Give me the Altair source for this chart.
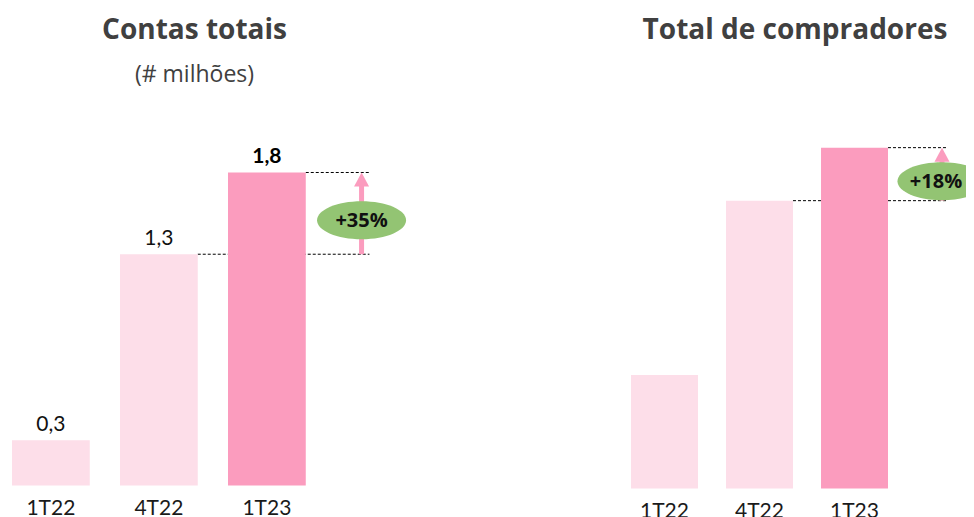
import altair as alt
import pandas as pd

# ---- dados ----
categorias = ["1T22", "4T22", "1T23"]
contas_valores = [0.26, 1.33, 1.80]          # milhões (altura das barras)
contas_rotulos = ["0,3", "1,3", "1,8"]
compradores_valores = [0.60, 1.52, 1.80]     # escala relativa (sem rótulos)
titulos = ["Contas totais", "Total de compradores"]
subtitulo = "(# milhões)"
crescimento_rotulos = ["+35%", "+18%"]

CLARO = "#FDDEE9"
ESCURO = "#FB9CBE"
VERDE = "#93C473"
FONTE_TIT = "Open Sans"
FONTE = "Lato"
TITULO_COR = "#404040"

cores = [CLARO, CLARO, ESCURO]
ELIPSE = "M-1,0A1,0.427,0,1,0,1,0A1,0.427,0,1,0,-1,0Z"
PONTA = "M0,0L1,1.87L-1,1.87Z"


def painel(valores, rotulos, titulo, sub, crescimento, largura, altura, y_max,
           pad_inner, pad_outer, desl_anot, desl_texto, desl_traco, title_dx, recorte):
    x_scale = alt.Scale(domain=categorias, paddingInner=pad_inner,
                        paddingOuter=pad_outer, align=0, round=False)
    y_scale = alt.Scale(domain=[0, y_max], nice=False, zero=True)
    x_axis = alt.Axis(title=None)

    barras_df = pd.DataFrame({"cat": categorias, "valor": valores})
    tracos_df = pd.DataFrame({"de": ["1T23", "4T22"], "para": ["1T23", "1T23"],
                              "valor": [valores[2], valores[1]]})
    seta_df = pd.DataFrame({"cat": ["1T23"], "base": [valores[1]],
                            "topo": [valores[2]], "rotulo": [crescimento]})

    tracos = alt.Chart(tracos_df).mark_rule(
        color="#000000", strokeWidth=1, strokeDash=[3, 2], x2Offset=desl_traco
    ).encode(
        x=alt.X("de:N", bandPosition=1, scale=x_scale, axis=x_axis),
        x2=alt.X2("para:N", bandPosition=1),
        y=alt.Y("valor:Q", scale=y_scale, axis=None),
    )

    barras = alt.Chart(barras_df).mark_bar().encode(
        x=alt.X("cat:N", scale=x_scale, axis=x_axis, sort=categorias),
        y=alt.Y("valor:Q", scale=y_scale, axis=None),
        color=alt.Color("cat:N", scale=alt.Scale(domain=categorias, range=cores),
                        legend=None),
    )

    x_anot = alt.X("cat:N", bandPosition=1, scale=x_scale, axis=x_axis)

    haste = alt.Chart(seta_df).mark_rule(
        color=ESCURO, strokeWidth=5, y2Offset=10, xOffset=desl_anot
    ).encode(
        x=x_anot,
        y=alt.Y("base:Q", scale=y_scale, axis=None),
        y2="topo:Q",
    )
    ponta = alt.Chart(seta_df).mark_point(
        shape=PONTA, size=225, filled=True, opacity=1, color=ESCURO,
        strokeWidth=0, xOffset=desl_anot
    ).encode(
        x=x_anot,
        y=alt.Y("topo:Q", scale=y_scale, axis=None),
    )
    elipse = alt.Chart(seta_df).transform_calculate(
        meio="(datum.base + datum.topo) / 2"
    ).mark_point(
        shape=ELIPSE, size=7921, filled=True, opacity=1, color=VERDE,
        strokeWidth=0, yOffset=7, xOffset=desl_anot, clip=recorte
    ).encode(
        x=x_anot,
        y=alt.Y("meio:Q", scale=y_scale, axis=None),
    )
    texto_cresc = alt.Chart(seta_df).transform_calculate(
        meio="(datum.base + datum.topo) / 2"
    ).mark_text(
        font=FONTE_TIT, fontSize=20, fontWeight="bold", color="#111111",
        baseline="middle", yOffset=8, xOffset=desl_texto
    ).encode(
        x=x_anot,
        y=alt.Y("meio:Q", scale=y_scale, axis=None),
        text="rotulo:N",
    )

    camadas = [tracos, barras, haste, ponta, elipse, texto_cresc]

    if rotulos is not None:
        rot_df = pd.DataFrame({"cat": categorias, "valor": valores, "rotulo": rotulos})
        base_txt = alt.Chart(rot_df).encode(
            x=alt.X("cat:N", scale=x_scale, axis=x_axis),
            y=alt.Y("valor:Q", scale=y_scale, axis=None),
            text="rotulo:N",
        )
        normal = base_txt.transform_filter(alt.datum.cat != "1T23").mark_text(
            font=FONTE, fontSize=21, color="#111111", baseline="alphabetic", dy=-9
        )
        negrito = base_txt.transform_filter(alt.datum.cat == "1T23").mark_text(
            font=FONTE, fontSize=21, fontWeight="bold", color="#000000",
            baseline="alphabetic", dy=-9
        )
        camadas += [normal, negrito]

    return alt.layer(*camadas).properties(
        width=largura,
        height=altura,
        title=alt.TitleParams(
            text=titulo, subtitle=sub, font=FONTE_TIT, subtitleFont=FONTE_TIT,
            fontSize=28, subtitleFontSize=23, fontWeight="bold",
            subtitleFontWeight="normal", color=TITULO_COR,
            subtitleColor=TITULO_COR, anchor="middle", dx=title_dx,
            offset=14, subtitlePadding=18.5,
        ),
    )


esquerda = painel(contas_valores, contas_rotulos, titulos[0], subtitulo,
                  crescimento_rotulos[0], 365, 385, 2.214,
                  0.28, 0.3298, 55.8, 55.8, 63.7, 0, False)
direita = painel(compradores_valores, None, titulos[1], " ",
                 crescimento_rotulos[1], 335, 388, 2.049,
                 0.295, 0.4105, 54.0, 48, 60, -3.5, True)

chart = alt.hconcat(esquerda, direita, spacing=254, bounds="flush").resolve_scale(
    x="independent", y="independent", color="independent"
).properties(
    padding={"left": 4, "top": 8.5, "right": 0, "bottom": 0},
    background="white",
).configure_view(
    stroke=None
).configure_axisX(
    labelFont=FONTE, labelFontSize=21, labelColor="#1a1a1a", labelAngle=0,
    labelPadding=12, domain=False, ticks=False, grid=False,
)

chart.save("out.html", embed_options={"renderer": "svg", "actions": False})
